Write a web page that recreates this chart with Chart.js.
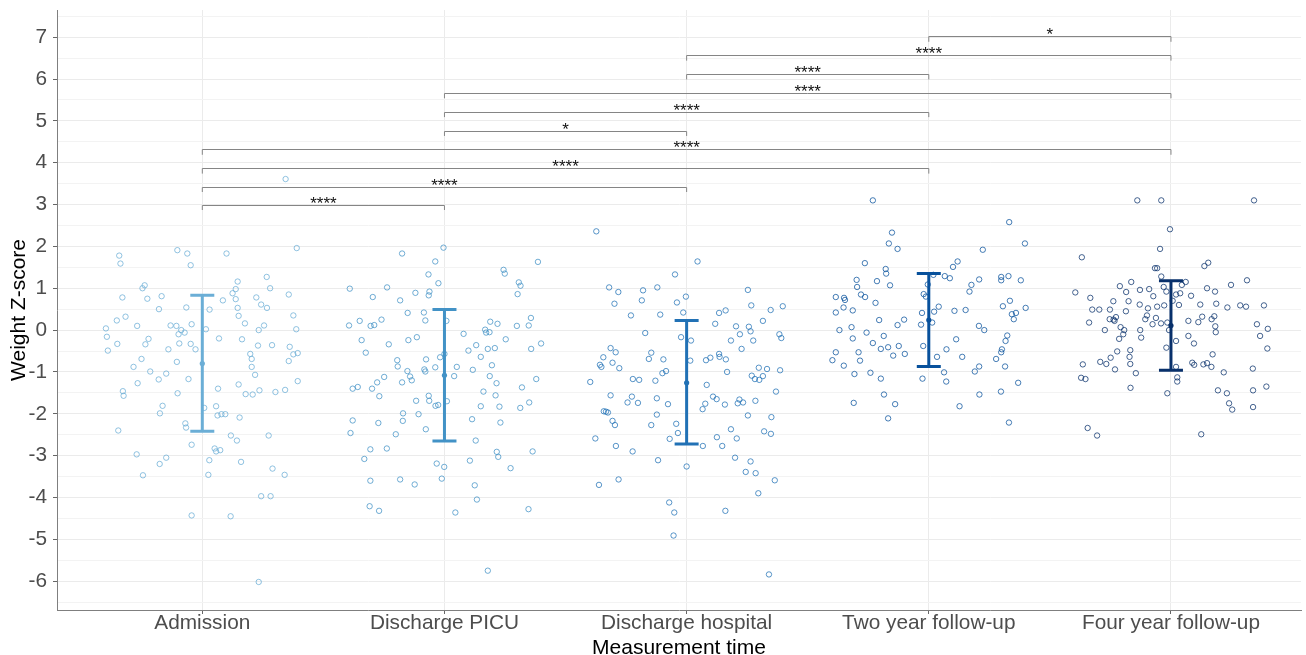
<!DOCTYPE html>
<html>
<head>
<meta charset="utf-8">
<script src="https://cdn.jsdelivr.net/npm/chart.js@4.4.1/dist/chart.umd.min.js"></script>
<style>
  html, body { margin: 0; padding: 0; background: #fff; }
  canvas { display: block; }
</style>
</head>
<body>
<canvas id="chart" width="1306" height="655"></canvas>
<script>
// categories and colours (ggplot "Blues")
const GROUPS = ['Admission', 'Discharge PICU', 'Discharge hospital', 'Two year follow-up', 'Four year follow-up'];
const COLORS = ['#6baed6', '#4292c6', '#2171b5', '#08519c', '#08306b'];

// individual Z-scores as [jitter, z]
const admission = [[0.344,3.61],[-0.343,1.78],[-0.338,1.59],[-0.103,1.91],[-0.062,1.83],[-0.048,1.55],[0.10,1.83],[0.39,1.96],[0.146,1.16],[0.266,1.27],[0.28,1.0],[-0.238,1.07],[-0.247,1.0],[-0.33,0.78],[-0.227,0.75],[-0.168,0.81],[-0.179,0.50],[-0.066,0.54],[0.138,0.98],[0.125,0.88],[0.138,0.74],[0.085,0.71],[0.146,0.53],[0.15,0.34],[0.223,0.78],[0.243,0.61],[0.267,0.53],[0.357,0.85],[0.376,0.35],[0.03,0.49],[-0.353,0.23],[-0.317,0.32],[-0.269,0.10],[-0.398,0.04],[-0.394,-0.16],[-0.39,-0.49],[-0.351,-0.33],[-0.235,-0.34],[-0.222,-0.21],[-0.131,0.11],[-0.107,0.10],[-0.098,-0.10],[-0.087,0.0],[-0.073,-0.06],[-0.044,0.14],[-0.095,-0.32],[-0.048,-0.33],[-0.028,-0.46],[-0.14,-0.46],[0.015,0.02],[0.069,-0.2],[0.164,-0.22],[0.176,0.16],[0.233,0.0],[0.255,0.11],[0.23,-0.37],[0.288,-0.36],[0.388,0.02],[0.361,-0.4],[0.376,-0.58],[0.394,-0.55],[0.357,-0.74],[0.198,-0.57],[0.204,-0.69],[0.204,-0.88],[0.218,-1.07],[-0.251,-0.69],[-0.284,-0.88],[-0.105,-0.76],[-0.215,-0.99],[-0.149,-1.04],[-0.18,-1.18],[-0.267,-1.27],[-0.057,-1.17],[-0.328,-1.46],[-0.325,-1.57],[-0.102,-1.51],[0.065,-1.40],[0.15,-1.30],[0.179,-1.53],[0.208,-1.54],[0.236,-1.44],[0.302,-1.48],[0.342,-1.43],[0.394,-1.22],[-0.164,-1.81],[-0.175,-1.99],[0.008,-1.86],[0.057,-1.82],[0.063,-2.04],[0.079,-2.01],[0.095,-2.01],[0.154,-2.09],[-0.07,-2.23],[-0.067,-2.33],[-0.347,-2.40],[0.118,-2.52],[0.274,-2.52],[0.143,-2.64],[-0.044,-2.74],[0.051,-2.83],[0.057,-2.9],[0.074,-2.87],[-0.271,-2.97],[-0.149,-3.05],[-0.176,-3.2],[0.029,-3.11],[0.16,-3.15],[0.29,-3.31],[-0.245,-3.47],[0.025,-3.46],[0.34,-3.46],[0.243,-3.97],[0.282,-3.97],[-0.044,-4.43],[0.117,-4.45],[0.233,-6.02]];

const dischargePicu = [[-0.004,1.97],[-0.175,1.83],[-0.038,1.64],[0.386,1.63],[0.244,1.44],[0.249,1.35],[-0.066,1.33],[-0.025,1.12],[0.307,1.14],[0.314,1.06],[0.302,0.86],[-0.391,0.99],[-0.237,1.02],[-0.296,0.79],[-0.12,0.89],[-0.062,0.92],[-0.065,0.83],[-0.183,0.71],[-0.152,0.41],[-0.085,0.42],[-0.079,0.23],[0.008,0.22],[-0.394,0.11],[-0.35,0.22],[-0.305,0.10],[-0.29,0.12],[-0.26,0.25],[-0.342,-0.24],[-0.23,-0.34],[-0.149,-0.24],[-0.114,-0.17],[-0.325,-0.54],[-0.195,-0.72],[-0.193,-0.87],[-0.076,-0.70],[-0.018,-0.65],[0.0,-0.57],[-0.153,-0.98],[-0.142,-1.11],[-0.135,-1.20],[-0.083,-0.94],[-0.079,-0.99],[-0.038,-0.89],[-0.249,-1.12],[-0.278,-1.25],[-0.175,-1.25],[-0.379,-1.40],[-0.358,-1.36],[-0.299,-1.40],[-0.269,-1.58],[-0.117,-1.69],[-0.065,-1.57],[-0.063,-1.69],[-0.037,-1.81],[-0.026,-1.79],[0.01,-1.70],[-0.171,-1.99],[-0.107,-2.01],[-0.379,-2.16],[-0.273,-2.22],[-0.172,-2.17],[-0.077,-2.37],[0.079,-0.09],[0.131,-0.36],[0.099,-0.49],[0.168,0.01],[0.172,-0.06],[0.186,-0.05],[0.189,0.20],[0.219,0.15],[0.299,0.10],[0.348,0.11],[0.357,0.29],[0.253,-0.22],[0.179,-0.45],[0.208,-0.43],[0.358,-0.45],[0.399,-0.32],[0.15,-0.64],[0.051,-0.88],[0.117,-0.95],[0.196,-0.84],[0.04,-1.10],[0.187,-1.10],[0.215,-1.27],[0.379,-1.17],[0.32,-1.37],[0.161,-1.47],[0.211,-1.56],[0.35,-1.73],[0.15,-1.82],[0.227,-1.83],[0.313,-1.86],[0.114,-2.13],[0.231,-2.21],[-0.388,-2.46],[-0.201,-2.49],[0.129,-2.64],[-0.306,-2.85],[-0.238,-2.83],[-0.331,-3.08],[0.216,-2.91],[0.222,-3.03],[0.364,-2.90],[0.105,-3.12],[-0.032,-3.19],[-0.001,-3.27],[0.273,-3.30],[-0.306,-3.60],[-0.183,-3.57],[-0.123,-3.69],[-0.011,-3.55],[0.125,-3.71],[0.134,-4.05],[-0.309,-4.21],[-0.27,-4.32],[0.045,-4.36],[0.347,-4.28],[0.179,-5.75]];

const dischargeHospital = [[-0.373,2.36],[0.045,1.64],[-0.048,1.33],[-0.32,1.02],[-0.282,0.91],[-0.18,0.95],[-0.121,1.02],[-0.298,0.63],[-0.185,0.71],[-0.04,0.66],[-0.003,0.80],[-0.014,0.42],[-0.23,0.35],[-0.109,0.37],[0.253,0.96],[0.267,0.59],[0.347,0.48],[0.397,0.57],[0.134,0.41],[0.161,0.47],[0.118,0.15],[0.315,0.22],[0.204,0.09],[0.257,0.08],[0.264,-0.03],[0.22,-0.10],[0.383,-0.10],[0.391,-0.19],[0.275,-0.25],[0.183,-0.25],[0.227,-0.45],[-0.171,-0.07],[-0.023,-0.17],[0.018,-0.25],[-0.314,-0.43],[-0.293,-0.53],[-0.344,-0.65],[-0.306,-0.78],[-0.358,-0.83],[-0.352,-0.88],[-0.278,-0.91],[-0.146,-0.54],[-0.156,-0.69],[-0.096,-0.70],[0.015,-0.73],[0.08,-0.72],[0.098,-0.66],[0.134,-0.57],[0.136,-0.64],[0.162,-0.70],[0.298,-0.90],[0.332,-0.93],[0.386,-0.96],[0.167,-1.00],[-0.1,-1.03],[-0.085,-0.98],[-0.398,-1.24],[-0.222,-1.17],[-0.196,-1.19],[-0.129,-1.21],[0.269,-1.09],[0.282,-1.17],[0.3,-1.19],[0.315,-1.10],[0.083,-1.31],[0.369,-1.47],[-0.314,-1.56],[-0.226,-1.59],[-0.244,-1.73],[-0.201,-1.74],[-0.123,-1.63],[-0.077,-1.77],[0.109,-1.59],[0.124,-1.65],[0.077,-1.76],[0.066,-1.89],[0.158,-1.78],[0.211,-1.75],[0.218,-1.66],[0.233,-1.73],[0.284,-1.69],[-0.342,-1.94],[-0.333,-1.95],[-0.325,-1.97],[-0.123,-2.02],[0.253,-2.04],[0.35,-2.08],[-0.377,-2.59],[-0.292,-2.77],[-0.223,-2.90],[-0.118,-3.11],[0.0,-3.26],[-0.362,-3.70],[-0.281,-3.57],[-0.146,-2.27],[-0.306,-2.17],[-0.296,-2.27],[-0.043,-2.24],[-0.036,-2.46],[-0.07,-2.60],[0.067,-2.77],[0.125,-2.56],[0.147,-2.77],[0.183,-2.37],[0.207,-2.59],[0.32,-2.42],[0.348,-2.48],[0.2,-3.05],[0.264,-3.14],[0.244,-3.39],[0.285,-3.42],[0.364,-3.59],[0.296,-3.90],[-0.072,-4.12],[-0.051,-4.36],[0.16,-4.32],[-0.054,-4.91],[0.34,-5.84]];

const twoYear = [[-0.231,3.10],[0.332,2.58],[-0.152,2.33],[0.397,2.07],[-0.165,2.07],[-0.129,1.94],[0.223,1.92],[-0.264,1.60],[0.119,1.64],[0.1,1.51],[-0.178,1.46],[-0.176,1.35],[0.019,1.32],[0.066,1.29],[0.087,1.24],[0.208,1.21],[0.299,1.27],[0.299,1.19],[0.329,1.29],[0.38,1.19],[-0.298,1.20],[-0.214,1.17],[-0.296,1.03],[-0.16,1.07],[0.176,1.08],[0.168,0.92],[-0.384,0.79],[-0.35,0.77],[-0.346,0.72],[-0.28,0.85],[-0.263,0.79],[-0.22,0.65],[-0.021,0.86],[-0.012,0.80],[-0.004,1.09],[0.335,0.70],[0.306,0.57],[0.4,0.53],[-0.352,0.54],[-0.384,0.42],[-0.314,0.47],[0.041,0.56],[0.022,0.44],[0.106,0.46],[0.152,0.48],[0.343,0.38],[0.36,0.41],[0.351,0.26],[-0.028,0.41],[-0.205,0.24],[-0.102,0.25],[-0.129,0.12],[-0.032,0.13],[0.014,0.18],[-0.319,0.07],[-0.369,0.0],[-0.257,-0.06],[-0.186,-0.14],[-0.314,-0.20],[0.207,0.10],[0.229,0.0],[0.324,-0.13],[0.317,-0.26],[0.113,-0.22],[-0.231,-0.31],[-0.168,-0.41],[-0.124,-0.38],[-0.198,-0.45],[-0.023,-0.38],[0.073,-0.46],[-0.384,-0.53],[-0.29,-0.53],[-0.147,-0.61],[-0.099,-0.57],[0.034,-0.64],[0.138,-0.64],[0.302,-0.46],[0.299,-0.53],[0.278,-0.69],[-0.398,-0.72],[-0.284,-0.73],[-0.351,-0.85],[0.315,-0.87],[0.208,-0.87],[0.19,-0.99],[0.063,-1.01],[-0.307,-1.05],[-0.241,-1.02],[-0.198,-1.16],[-0.026,-1.16],[0.072,-1.23],[0.369,-1.26],[0.298,-1.47],[0.209,-1.54],[-0.185,-1.54],[-0.31,-1.74],[-0.139,-1.77],[0.127,-1.82],[-0.168,-2.11],[0.331,-2.21]];

const fourYear = [[-0.139,3.10],[-0.04,3.10],[0.343,3.10],[-0.004,2.41],[-0.045,1.94],[-0.368,1.74],[0.138,1.53],[0.154,1.61],[-0.066,1.48],[-0.057,1.48],[0.314,1.19],[-0.164,1.15],[-0.04,1.28],[0.061,1.15],[0.045,1.08],[0.248,1.08],[-0.211,1.05],[-0.03,1.03],[-0.395,0.90],[-0.185,0.91],[-0.128,0.96],[-0.09,0.98],[-0.019,0.92],[0.149,1.00],[0.182,0.92],[-0.073,0.81],[0.021,0.85],[0.038,0.88],[0.083,0.82],[-0.333,0.77],[-0.238,0.69],[-0.175,0.69],[-0.129,0.61],[-0.057,0.56],[-0.028,0.59],[0.007,0.70],[0.033,0.60],[0.121,0.61],[0.187,0.63],[0.233,0.54],[0.286,0.59],[0.31,0.56],[0.384,0.59],[-0.325,0.49],[-0.296,0.49],[-0.252,0.49],[-0.186,0.45],[-0.095,0.52],[-0.099,0.35],[-0.106,0.26],[-0.227,0.31],[-0.253,0.26],[-0.237,0.25],[-0.233,0.22],[-0.338,0.18],[-0.062,0.29],[-0.076,0.14],[-0.041,0.16],[-0.015,0.18],[0.129,0.32],[0.113,0.19],[0.072,0.22],[0.168,0.26],[0.179,0.33],[0.183,0.09],[0.185,-0.05],[0.355,0.14],[0.4,0.03],[0.368,-0.14],[-0.273,0.0],[-0.208,0.07],[-0.193,0.0],[-0.197,-0.10],[-0.127,0.0],[-0.123,-0.18],[-0.214,-0.21],[-0.008,0.0],[0.072,-0.14],[0.021,-0.26],[0.095,-0.32],[0.398,-0.44],[-0.019,-0.42],[-0.222,-0.51],[-0.168,-0.48],[-0.171,-0.64],[-0.249,-0.66],[-0.292,-0.76],[-0.267,-0.81],[-0.168,-0.81],[-0.364,-0.82],[-0.231,-0.94],[-0.145,-1.03],[0.172,-0.58],[0.088,-0.78],[0.096,-0.83],[0.134,-0.82],[0.149,-0.79],[0.167,-0.88],[0.021,-0.88],[0.338,-0.92],[0.218,-1.01],[-0.371,-1.14],[-0.353,-1.17],[0.026,-1.13],[0.026,-1.23],[-0.167,-1.38],[-0.015,-1.51],[0.394,-1.35],[0.194,-1.44],[0.231,-1.51],[0.339,-1.44],[0.24,-1.75],[0.253,-1.90],[0.339,-1.84],[-0.344,-2.34],[-0.305,-2.52],[0.125,-2.49]];

const POINTS = [admission, dischargePicu, dischargeHospital, twoYear, fourYear];

// mean and mean +/- SD per group
const MEANS = [-0.80, -1.08, -1.26, 0.24, 0.11];
const SD_LOW = [-2.42, -2.65, -2.72, -0.87, -0.96];
const SD_HIGH = [0.83, 0.49, 0.23, 1.35, 1.18];

// pairwise comparison brackets
const BR_FROM = [1, 1, 1, 1, 2, 2, 2, 3, 3, 4];
const BR_TO = [2, 3, 4, 5, 3, 4, 5, 4, 5, 5];
const BR_Y = [3.0, 3.43, 3.87, 4.32, 4.77, 5.22, 5.67, 6.12, 6.57, 7.02];
const BR_LABEL = ['****', '****', '****', '****', '*', '****', '****', '****', '****', '*'];

const FONT = "'Liberation Sans', Arial, sans-serif";

function withAlpha(hex, a) {
    const n = parseInt(hex.slice(1), 16);
    return `rgba(${n >> 16},${(n >> 8) & 255},${n & 255},${a})`;
}

const errorBars = {
    id: 'errorBars',
    afterDatasetsDraw(chart) {
        const { ctx, scales: { x, y } } = chart;
        ctx.save();
        MEANS.forEach((m, i) => {
            const px = x.getPixelForValue(i + 1);
            const top = y.getPixelForValue(SD_HIGH[i]);
            const bot = y.getPixelForValue(SD_LOW[i]);
            ctx.strokeStyle = COLORS[i];
            ctx.lineWidth = 3;
            ctx.beginPath();
            ctx.moveTo(px, top); ctx.lineTo(px, bot);
            ctx.moveTo(px - 12, top); ctx.lineTo(px + 12, top);
            ctx.moveTo(px - 12, bot); ctx.lineTo(px + 12, bot);
            ctx.stroke();
            ctx.fillStyle = COLORS[i];
            ctx.beginPath();
            ctx.arc(px, y.getPixelForValue(m), 2.6, 0, Math.PI * 2);
            ctx.fill();
        });
        ctx.restore();
    }
};

const brackets = {
    id: 'brackets',
    afterDatasetsDraw(chart) {
        const { ctx, scales: { x, y } } = chart;
        ctx.save();
        ctx.strokeStyle = '#858585';
        ctx.lineWidth = 1;
        ctx.fillStyle = '#111';
        ctx.font = `17px ${FONT}`;
        ctx.textAlign = 'center';
        ctx.textBaseline = 'alphabetic';
        BR_Y.forEach((v, i) => {
            const x1 = x.getPixelForValue(BR_FROM[i]);
            const x2 = x.getPixelForValue(BR_TO[i]);
            const py = Math.round(y.getPixelForValue(v)) + 0.5;
            const tip = y.getPixelForValue(v - 0.13);
            ctx.beginPath();
            ctx.moveTo(x1, tip); ctx.lineTo(x1, py);
            ctx.lineTo(x2, py); ctx.lineTo(x2, tip);
            ctx.stroke();
            ctx.fillText(BR_LABEL[i], (x1 + x2) / 2, py + 3.5);
        });
        ctx.restore();
    }
};

new Chart(document.getElementById('chart'), {
    type: 'scatter',
    data: {
        datasets: POINTS.map((pts, i) => ({
            label: GROUPS[i],
            data: pts.map(([j, z]) => ({ x: i + 1 + j, y: z })),
            pointStyle: 'circle',
            pointRadius: 2.7,
            pointBorderWidth: 1,
            pointBackgroundColor: 'rgba(0,0,0,0)',
            pointBorderColor: withAlpha(COLORS[i], 0.75),
        }))
    },
    options: {
        responsive: false,
        animation: false,
        layout: { padding: { top: 10, right: 0, left: 0, bottom: 0 } },
        plugins: { legend: { display: false }, tooltip: { enabled: false } },
        scales: {
            x: {
                type: 'linear',
                min: 0.4,
                max: 5.537,
                afterBuildTicks: (s) => { s.ticks = GROUPS.map((g, i) => ({ value: i + 1 })); },
                afterFit: (s) => {
                    s.height = 45;
                    s.paddingLeft = 0;
                    s.paddingRight = 0;
                },
                ticks: {
                    callback: (v) => GROUPS[v - 1],
                    autoSkip: false,
                    maxRotation: 0,
                    color: '#4d4d4d',
                    font: { family: FONT, size: 20.8 },
                    padding: -3,
                },
                grid: { color: '#ebebeb', lineWidth: 1, tickColor: '#666', tickLength: 4 },
                border: { display: true, color: '#7f7f7f', width: 1 },
                title: {
                    display: true,
                    text: 'Measurement time',
                    color: '#000',
                    font: { family: FONT, size: 21 },
                    padding: { top: 0, bottom: -6 },
                },
            },
            y: {
                min: -6.69,
                max: 7.65,
                afterBuildTicks: (s) => {
                    const t = [];
                    for (let v = -6.5; v <= 7.5; v += 0.5) t.push({ value: v });
                    s.ticks = t;
                },
                afterFit: (s) => {
                    s.width = 57;
                    s.paddingTop = 0;
                    s.paddingBottom = 0;
                },
                ticks: {
                    callback: (v) => Number.isInteger(v) ? String(v) : '',
                    color: '#4d4d4d',
                    font: { family: FONT, size: 20.8 },
                    padding: 6,
                    autoSkip: false,
                },
                grid: {
                    color: (c) => Number.isInteger(c.tick.value) ? '#ebebeb' : '#f3f3f3',
                    tickColor: (c) => Number.isInteger(c.tick.value) ? '#666' : 'rgba(0,0,0,0)',
                    tickLength: 4,
                },
                border: { display: true, color: '#7f7f7f', width: 1 },
                title: {
                    display: true,
                    text: 'Weight Z-score',
                    color: '#000',
                    font: { family: FONT, size: 21 },
                    padding: { top: 7, bottom: 0 },
                },
            },
        },
    },
    plugins: [errorBars, brackets],
});
</script>
</body>
</html>
